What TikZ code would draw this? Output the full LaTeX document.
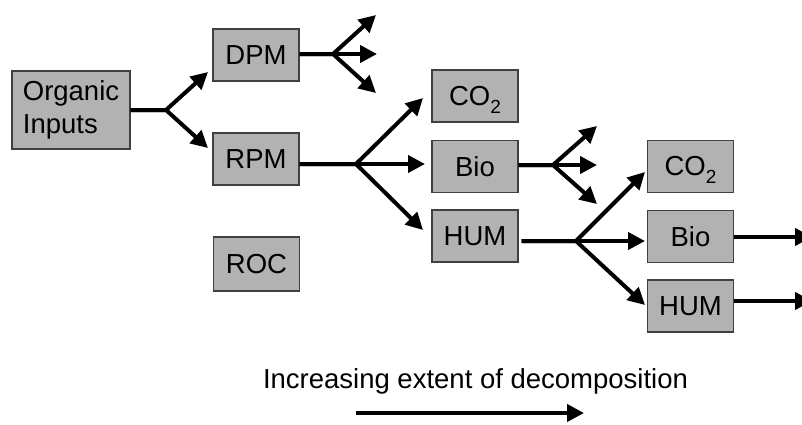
\documentclass[tikz,border=0pt]{standalone}
\usepackage{fontspec}
\setmainfont{Liberation Sans}
\usetikzlibrary{arrows.meta}
\definecolor{boxfill}{RGB}{178,178,178}
\definecolor{boxline}{RGB}{64,64,64}
% lowered subscript "2" that does not change the box height
\newcommand\subtwo{\raisebox{-8pt}[0pt][0pt]{\fontsize{19}{19}\selectfont 2}}
\begin{document}
\begin{tikzpicture}[x=1pt,y=-1pt,
  box/.style={draw=boxline, line width=1.2pt, fill=boxfill,
    minimum width=86pt, minimum height=52pt, inner sep=0pt,
    font=\fontsize{27.5}{33}\selectfont},
  flow/.style={line width=4pt, line join=miter,
    -{Triangle[length=17pt,width=17pt]}}]
\clip (0,0) rectangle (802,424);

% pools
\node[box, minimum width=118pt, minimum height=78pt, align=left] (org) at (71,110) {Organic\\Inputs};
\node[box] (dpm) at (256,55) {DPM};
\node[box] (rpm) at (256,159) {RPM};
\node[box, minimum height=54pt] (roc) at (256.5,264) {ROC};
\node[box] (co2a) at (475,96) {CO\subtwo};
\node[box] (bioa) at (475,166.5) {Bio};
\node[box] (huma) at (475,236) {HUM};
\node[box] (co2b) at (690.5,166.5) {CO\subtwo};
\node[box] (biob) at (690.5,236.5) {Bio};
\node[box] (humb) at (690.5,306) {HUM};

% branch points and free arrow ends
\coordinate (s1) at (166,110);
\coordinate (t1a) at (208,72);
\coordinate (t1b) at (208,148);
\coordinate (s2) at (333,54);
\coordinate (t2a) at (376,15);
\coordinate (t2b) at (377,54);
\coordinate (t2c) at (376,93);
\coordinate (s3) at (356,164);
\coordinate (t3a) at (423,98);
\coordinate (t3b) at (425,164);
\coordinate (t3c) at (423,230);
\coordinate (s4) at (553,165);
\coordinate (t4a) at (597,126);
\coordinate (t4b) at (597,165);
\coordinate (t4c) at (597,204);
\coordinate (s5) at (576,241);
\coordinate (t5a) at (645,172);
\coordinate (t5b) at (645,241);
\coordinate (t5c) at (645,305);
\coordinate (e1) at (812,237);
\coordinate (e2) at (812,301);

% Organic inputs split into DPM and RPM
\draw[flow] (org.east |- s1) -- (s1) -- (t1a);
\draw[flow] (org.east |- s1) -- (s1) -- (t1b);
% DPM
\draw[flow] (dpm.east |- s2) -- (s2) -- (t2a);
\draw[flow] (dpm.east |- s2) -- (s2) -- (t2b);
\draw[flow] (dpm.east |- s2) -- (s2) -- (t2c);
% RPM
\draw[flow] (rpm.east |- s3) -- (s3) -- (t3a);
\draw[flow] (rpm.east |- s3) -- (s3) -- (t3b);
\draw[flow] (rpm.east |- s3) -- (s3) -- (t3c);
% Bio
\draw[flow] (bioa.east |- s4) -- (s4) -- (t4a);
\draw[flow] (bioa.east |- s4) -- (s4) -- (t4b);
\draw[flow] (bioa.east |- s4) -- (s4) -- (t4c);
% HUM
\coordinate (h0) at ([xshift=3pt]huma.east |- s5);
\draw[flow] (h0) -- (s5) -- (t5a);
\draw[flow] (h0) -- (s5) -- (t5b);
\draw[flow] (h0) -- (s5) -- (t5c);
% second generation
\draw[flow] (biob.east |- e1) -- (e1);
\draw[flow] (humb.east |- e2) -- (e2);

% caption and direction arrow
\node[anchor=base, font=\fontsize{27.5}{33}\selectfont] (cap) at (475.5,388) {Increasing extent of decomposition};
\coordinate (d0) at (356,413);
\coordinate (d1) at (584,413);
\draw[flow] (d0) -- (d1);
\end{tikzpicture}
\end{document}
